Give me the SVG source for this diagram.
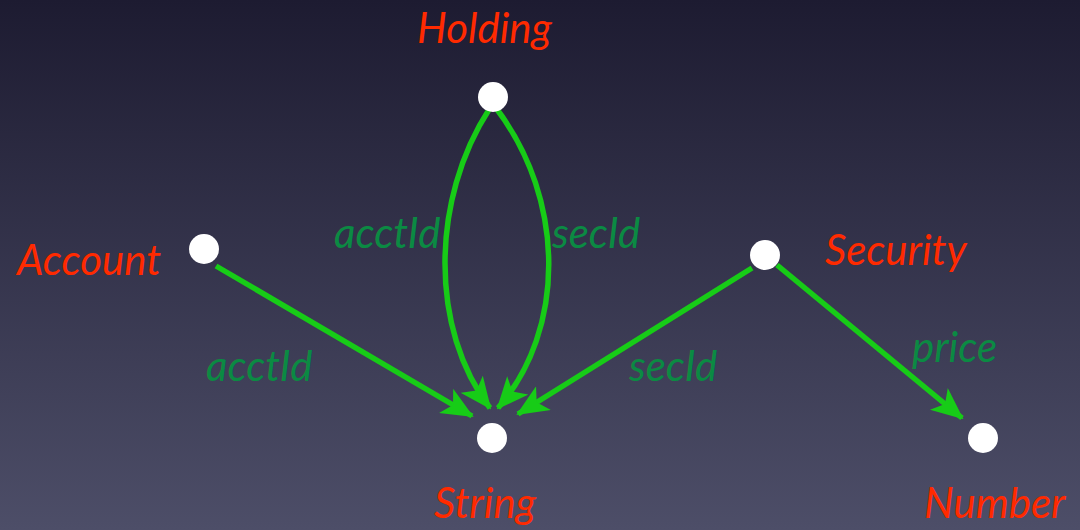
<svg xmlns="http://www.w3.org/2000/svg" width="1080" height="530" viewBox="0 0 1080 530">
<defs>
<linearGradient id="bg" x1="0" y1="0" x2="0" y2="1">
<stop offset="0" stop-color="#1d1b31"/>
<stop offset="1" stop-color="#4d4e68"/>
</linearGradient>
<marker id="ah" markerUnits="userSpaceOnUse" markerWidth="32" markerHeight="28" viewBox="0 0 32 28" refX="30" refY="14" orient="auto">
<path d="M0,0 L32,14 L0,28 L8,14 z" fill="#17cc17"/>
</marker>
<style>
.edge{fill:none;stroke:#17cc17;stroke-width:5.5;marker-end:url(#ah)}
.node{fill:#ffffff}
.nl{font-family:Lato,"Liberation Sans",sans-serif;font-style:italic;font-size:42px;fill:#ff2a00}
.el{font-family:Lato,"Liberation Sans",sans-serif;font-style:italic;font-size:42px;fill:#0b8a43}
</style>
</defs>
<rect width="1080" height="530" fill="url(#bg)"/>
<g id="connectors">
<path class="edge" d="M216,266 L472,416"/>
<path class="edge" d="M490,108 C430,200 430,330 490,408"/>
<path class="edge" d="M496,108 C566,200 566,330 498,408"/>
<path class="edge" d="M752,268 L518,414"/>
<path class="edge" d="M777,265 L962,418"/>
<text class="el" x="334" y="248">acctId</text>
<text class="el" x="552" y="248">secId</text>
<text class="el" x="206" y="381">acctId</text>
<text class="el" x="629" y="381">secId</text>
<text class="el" x="912" y="362">price</text>
</g>
<g id="holding"><circle class="node" cx="493" cy="97" r="15"/><text class="nl" x="417" y="43">Holding</text></g>
<g id="account"><circle class="node" cx="204" cy="249" r="15"/><text class="nl" x="17" y="275">Account</text></g>
<g id="security"><circle class="node" cx="765" cy="255" r="15"/><text class="nl" x="825" y="265">Security</text></g>
<g id="string"><circle class="node" cx="492" cy="438" r="15"/><text class="nl" x="434" y="518">String</text></g>
<g id="number"><circle class="node" cx="983" cy="438" r="15"/><text class="nl" x="924" y="518">Number</text></g>
</svg>
